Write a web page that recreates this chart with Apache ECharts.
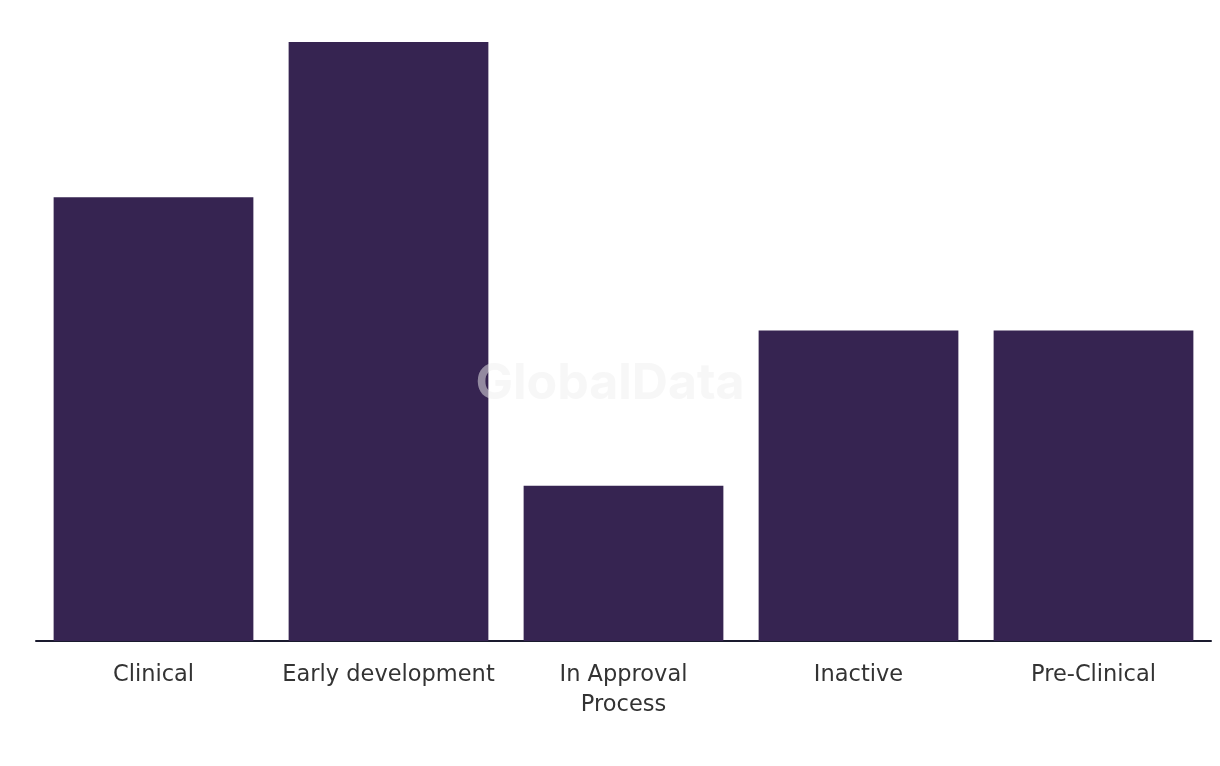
<!DOCTYPE html>
<html><head><meta charset="utf-8">
<script src="https://cdn.jsdelivr.net/npm/echarts@6/dist/echarts.min.js"></script>
<style>html,body{margin:0;padding:0;background:#fff}#c{width:1220px;height:766px}</style>
</head><body><div id="c"></div>
<script>
const categories = ['Clinical', 'Early development', 'In Approval\nProcess', 'Inactive', 'Pre-Clinical'];
const values = [20, 27, 7, 14, 14];

const chart = echarts.init(document.getElementById('c'), null, {renderer: 'canvas'});
chart.setOption({
  animation: false,
  grid: {left: 36, right: 9, top: 42, bottom: 125, containLabel: false},
  xAxis: {
    type: 'category',
    data: categories,
    axisTick: {show: false},
    axisLine: {show: true, lineStyle: {color: '#1a1a2e', width: 2}},
    axisLabel: {color: '#333', fontSize: 22.5, fontFamily: '"DejaVu Sans", sans-serif', margin: 19, lineHeight: 30, interval: 0}
  },
  yAxis: {type: 'value', min: 0, max: 27, show: false, splitLine: {show: false}},
  series: [{
    type: 'bar',
    data: values,
    barCategoryGap: '15%',
    itemStyle: {color: '#362451'}
  }],
  graphic: [{
    type: 'text',
    left: 'center',
    top: 359,
    z: 100,
    style: {text: 'GlobalData', fontSize: 50, fontWeight: 'bold', fontFamily: 'Inter, sans-serif', fill: 'rgba(240,240,240,0.5)'}
  }]
});
</script></body></html>
